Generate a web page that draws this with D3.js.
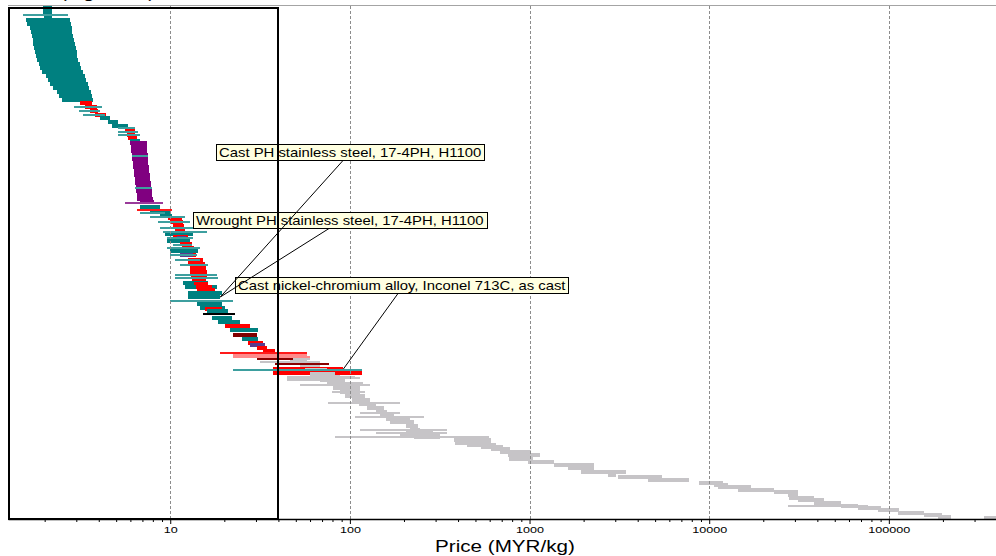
<!DOCTYPE html>
<html>
<head>
<meta charset="utf-8">
<script src="https://cdn.jsdelivr.net/npm/d3@7"></script>
<style>
  html, body { margin: 0; padding: 0; background: #fff; }
  svg { display: block; }
  text { font-family: "Liberation Sans", Arial, sans-serif; fill: #000; }
</style>
</head>
<body>
<svg id="chart" width="996" height="556"></svg>
<script>
// ---- axis settings -------------------------------------------------------
const majorTicks = [10, 100, 1000, 10000, 100000];
const xTitle = "Price (MYR/kg)";
const topTitle = "(log scale)";
const priceDomain = [1.25, 400000];
const rankDomain = [0, 512];
const selectionMax = 40;          // upper price limit of the selection box

// ---- materials: [rank, min price, max price] (MYR/kg) ---------------------
const tealBars = [
  [1, 1.96, 2.20], [5, 1.96, 2.20], [9, 1.98, 2.20],
  [13, 1.58, 2.77], [17, 1.60, 2.81], [21, 1.66, 2.84], [25, 1.68, 2.84],
  [29, 1.70, 2.88], [33, 1.73, 2.92], [37, 1.73, 2.96], [41, 1.75, 2.99],
  [45, 1.77, 3.03], [49, 1.79, 3.03], [53, 1.82, 3.07], [57, 1.86, 3.15],
  [61, 1.89, 3.19], [65, 1.94, 3.28], [69, 2.04, 3.36], [73, 2.09, 3.40],
  [77, 2.15, 3.49], [81, 2.23, 3.54], [85, 2.35, 3.63], [89, 2.41, 3.68],
  [93, 2.50, 3.72],
  [111, 4.07, 4.63], [115, 4.52, 5.13], [119, 4.75, 5.83], [134, 5.99, 6.80],
  [200, 6.80, 8.80], [205, 7.74, 10.0], [209, 8.80, 10.26],
  [227, 9.38, 13.4], [234, 9.62, 12.9], [244, 10.0, 14.3],
  [276, 11.8, 16.3], [280, 12.1, 18.3], [286, 12.6, 19.5], [290, 12.6, 19.0],
  [297, 14.1, 19.5], [301, 14.7, 20.2], [304, 16.1, 21.0], [311, 17.1, 22.2],
  [315, 18.5, 24.5], [323, 21.6, 30.9], [332, 25.2, 30.9], [347, 37.5, 41.1]
];
const tealLines = [
  [8, 1.52, 2.70], [100, 2.92, 4.18], [104, 3.11, 4.07], [108, 3.28, 4.34],
  [121, 5.13, 6.38], [125, 5.13, 6.63], [128, 5.13, 6.80],
  [149, 6.14, 7.54], [181, 6.38, 7.94],
  [206, 6.80, 9.38], [210, 7.74, 12.1], [215, 8.57, 12.9], [221, 8.80, 13.8],
  [225, 9.14, 16.1], [231, 9.62, 13.4], [238, 10.4, 13.3], [241, 9.62, 14.7],
  [248, 10.0, 14.1], [253, 10.66, 14.7], [258, 11.4, 16.3], [268, 10.66, 18.3],
  [271, 10.66, 18.5], [294, 10.0, 22.4], [363, 22.4, 117]
];
const redBars = [
  [96, 3.15, 3.68], [100, 3.36, 3.92], [104, 3.58, 3.97], [108, 3.82, 4.40],
  [124, 5.61, 6.38], [128, 5.76, 6.38], [131, 5.83, 6.55],
  [211, 9.75, 11.67], [215, 10.0, 11.8], [219, 10.4, 11.95], [223, 10.66, 12.1],
  [230, 10.4, 12.6], [237, 11.4, 13.3], [241, 11.7, 13.6], [248, 12.1, 14.0],
  [253, 12.6, 15.3], [257, 12.6, 15.7], [261, 12.8, 15.9], [265, 12.9, 16.1],
  [269, 13.1, 16.1], [273, 13.3, 15.9], [277, 13.6, 16.3], [280, 14.0, 17.1],
  [283, 14.1, 17.8], [302, 15.7, 19.5], [319, 20.2, 27.9],
  [336, 27.2, 33.0], [341, 30.5, 34.7], [344, 33.0, 38.5],
  [362, 37.5, 92.0], [366, 37.5, 117]
];
const redLines = [[203, 6.55, 10.26], [346, 19.0, 58.0]];
const purpleBars = [
  [136, 5.99, 7.44], [140, 6.07, 7.44], [144, 6.07, 7.44], [148, 6.14, 7.54],
  [152, 6.14, 7.54], [156, 6.22, 7.54], [160, 6.22, 7.64], [164, 6.30, 7.64],
  [168, 6.30, 7.74], [172, 6.38, 7.74], [176, 6.38, 7.84], [180, 6.46, 7.84],
  [184, 6.46, 7.94], [188, 6.55, 7.94], [192, 6.55, 8.05], [195, 6.80, 8.15]
];
const purpleLines = [[196, 5.61, 9.14]];
const violetBars = [[231, 10.9, 12.3], [248, 11.4, 13.4], [338, 27.9, 33.8]];
const maroonBars = [[328, 22.4, 30.5]];
const maroonLines = [[352, 30.5, 48.5], [357, 38.5, 76.9]];
const blackLines = [[307, 15.3, 23.0]];
const pinkLines = [[348, 22.4, 58.0], [350, 22.4, 60.3]];
const orangeBars = [[348, 37.5, 41.1]];
const grayBars = [
  [351, 41.1, 60.3], [354, 46.6, 58.0], [359, 53.0, 68.5], [363, 56.0, 75.0],
  [367, 60.0, 83.0], [370, 64.0, 88.0],
  [373, 68.5, 94.4], [377, 74.9, 119], [381, 80.9, 114], [385, 88.6, 114],
  [389, 94.4, 122], [393, 103, 130], [397, 112, 139], [401, 125, 154],
  [405, 139, 160], [409, 148, 175], [412, 158, 217], [415, 168, 226],
  [419, 204, 240], [423, 217, 247], [426, 205, 290], [428, 191, 319],
  [430, 226, 319], [431, 378, 592], [433, 378, 607], [436, 387, 607],
  [438, 450, 650], [440, 534, 716],
  [442, 607, 783], [445, 688, 1013], [448, 754, 1150], [452, 766, 1052],
  [455, 975, 1360], [458, 1360, 2270], [461, 1630, 2270], [465, 1930, 3430],
  [468, 2720, 3010], [470, 3090, 5430], [473, 4540, 7690], [476, 8740, 11890],
  [478, 10590, 12660], [480, 11150, 17020], [483, 14430, 22840],
  [485, 22840, 31100], [488, 27350, 31100], [491, 27730, 38190],
  [493, 31100, 43450], [496, 38190, 54050], [499, 54050, 67100],
  [501, 67100, 90200], [503, 86900, 113700], [506, 112200, 156700],
  [508, 156700, 197000], [510, 187500, 221400], [511, 338000, 404000]
];
const grayLines = [
  [355, 31.7, 68.5], [370, 44.9, 107], [371, 44.9, 114], [373, 44.9, 77.9],
  [378, 53.0, 130], [385, 79.9, 122], [396, 75.9, 191], [406, 114, 191],
  [410, 107, 257], [423, 114, 349], [426, 139, 349], [430, 83, 468],
  [499, 27400, 76400]
];

// ---- labelled materials -----------------------------------------------------
const noteTexts = [
  "Cast PH stainless steel, 17-4PH, H1100",
  "Wrought PH stainless steel, 17-4PH, H1100",
  "Cast nickel-chromium alloy, Inconel 713C, as cast"
];
const notePrices = [19.0, 19.0, 92.0];
const noteRanks = [290, 290, 362];

// ---- drawing ---------------------------------------------------------------
const svg = d3.select("#chart");
const plot = { left: 8, right: 997, top: 7, bottom: 519 };

const x = d3.scaleLog().domain(priceDomain).range([plot.left, plot.right]);
const y = d3.scaleLinear().domain(rankDomain).range([plot.top, plot.bottom]);

svg.append("defs").append("clipPath").attr("id", "plotClip")
  .append("rect").attr("x", plot.left).attr("y", plot.top - 2)
  .attr("width", plot.right - plot.left).attr("height", plot.bottom - plot.top + 2);

// heading above the frame, mostly outside the page
svg.append("text")
  .attr("transform", "translate(60,-2) scale(1.29,1)")
  .style("font-size", "16px")
  .text(topTitle);

// frame top
svg.append("line")
  .attr("x1", plot.left).attr("x2", 996).attr("y1", 5.5).attr("y2", 5.5)
  .attr("stroke", "#a4a4a4").attr("stroke-width", 1);

const marks = svg.append("g").attr("clip-path", "url(#plotClip)")
  .attr("shape-rendering", "crispEdges");

// solid range bars, drawn in rank order so lower bars overlap upper ones
const thickSets = [
  [tealBars, "#008080"], [purpleBars, "#800080"], [redBars, "#ff0000"],
  [violetBars, "#5b3b8e"], [maroonBars, "#800000"], [orangeBars, "#ffb030"],
  [grayBars, "#c6c4c7"]
];
const thick = [];
thickSets.forEach(([arr, col]) => arr.forEach(d => thick.push({ r: d[0], lo: d[1], hi: d[2], col })));
thick.sort((a, b) => a.r - b.r);

marks.selectAll("rect.bar").data(thick).join("rect")
  .attr("class", "bar")
  .attr("x", d => x(d.lo))
  .attr("width", d => Math.max(1, x(d.hi) - x(d.lo)))
  .attr("y", d => y(d.r) - 2)
  .attr("height", 4)
  .attr("fill", d => d.col);

// thin range lines
const thinSets = [
  [grayLines, "#c6c4c7"], [tealLines, "#3d9f9f"], [redLines, "#ff1a1a"],
  [purpleLines, "#9a3a9a"], [maroonLines, "#8a0000"], [pinkLines, "#ff8a8a"],
  [blackLines, "#000000"]
];
const thin = [];
thinSets.forEach(([arr, col]) => arr.forEach(d => thin.push({ r: d[0], lo: d[1], hi: d[2], col })));

marks.selectAll("rect.line").data(thin).join("rect")
  .attr("class", "line")
  .attr("x", d => x(d.lo))
  .attr("width", d => x(d.hi) - x(d.lo))
  .attr("y", d => y(d.r) - 1)
  .attr("height", 2)
  .attr("fill", d => d.col);

// decade gridlines
svg.append("g").selectAll("line").data(majorTicks).join("line")
  .attr("x1", d => Math.round(x(d)) + 0.5).attr("x2", d => Math.round(x(d)) + 0.5)
  .attr("y1", 6).attr("y2", plot.bottom)
  .attr("stroke", "#8c8c8c").attr("stroke-width", 1)
  .attr("stroke-dasharray", "3,2");

// x axis: minor ticks, then labelled decades
const minorTicks = [];
for (let e = 0; e <= 5; e++) {
  for (let m = 2; m <= 9; m++) {
    const v = m * Math.pow(10, e);
    if (v > priceDomain[0] && v < priceDomain[1]) minorTicks.push(v);
  }
}
const axisG = svg.append("g").attr("transform", `translate(0,${plot.bottom})`);
axisG.append("g")
  .call(d3.axisBottom(x).tickValues(minorTicks).tickSize(3).tickSizeOuter(0).tickFormat(""))
  .call(g => g.select(".domain").remove())
  .call(g => g.selectAll("line").attr("stroke", "#000").attr("stroke-width", 1));
axisG.append("g")
  .call(d3.axisBottom(x).tickValues(majorTicks).tickSize(5).tickSizeOuter(0)
    .tickPadding(3).tickFormat(d3.format("d")))
  .call(g => g.select(".domain").attr("stroke", "#000").attr("stroke-width", 1.5))
  .call(g => g.selectAll(".tick line").attr("stroke", "#000").attr("stroke-width", 1))
  .call(g => g.selectAll("text")
    .attr("font-family", "Liberation Sans, Arial, sans-serif")
    .attr("font-size", 9)
    .attr("transform", "scale(1.4,1)"));

svg.append("text")
  .attr("transform", `translate(505,552) scale(1.29,1)`)
  .attr("text-anchor", "middle")
  .style("font-size", "16px")
  .text(xTitle);

// annotation labels with leader lines
const noteLayout = [
  { bx: 216, by: 144, ax: 343 },
  { bx: 193, by: 212, ax: 329 },
  { bx: 235, by: 277, ax: 398 }
];
const sx = 1.19;
const notesG = svg.append("g");
noteTexts.forEach((t, i) => {
  const L = noteLayout[i];
  const g = notesG.append("g");
  const rect = g.append("rect")
    .attr("x", L.bx + 0.5).attr("y", L.by + 0.5).attr("height", 16)
    .attr("fill", "#ffffe1").attr("stroke", "#000").attr("stroke-width", 1);
  const txt = g.append("text")
    .attr("transform", `translate(${L.bx + 3},${L.by + 12.5}) scale(${sx},1)`)
    .style("font-size", "12.5px")
    .text(t);
  const w = txt.node().getComputedTextLength() * sx;
  rect.attr("width", Math.round(w + 6));
});
const leaders = svg.append("g");
noteTexts.forEach((t, i) => {
  const L = noteLayout[i];
  leaders.append("line")
    .attr("x1", L.ax).attr("y1", L.by + 16.5)
    .attr("x2", x(notePrices[i])).attr("y2", y(noteRanks[i]))
    .attr("stroke", "#000").attr("stroke-width", 1);
});

// selection box (prices up to selectionMax)
svg.append("rect")
  .attr("x", x(priceDomain[0]) + 1).attr("y", plot.top + 1)
  .attr("width", x(selectionMax) - x(priceDomain[0]) - 1)
  .attr("height", plot.bottom - plot.top - 1)
  .attr("fill", "none").attr("stroke", "#000").attr("stroke-width", 2)
  .attr("shape-rendering", "crispEdges");
</script>
</body>
</html>
